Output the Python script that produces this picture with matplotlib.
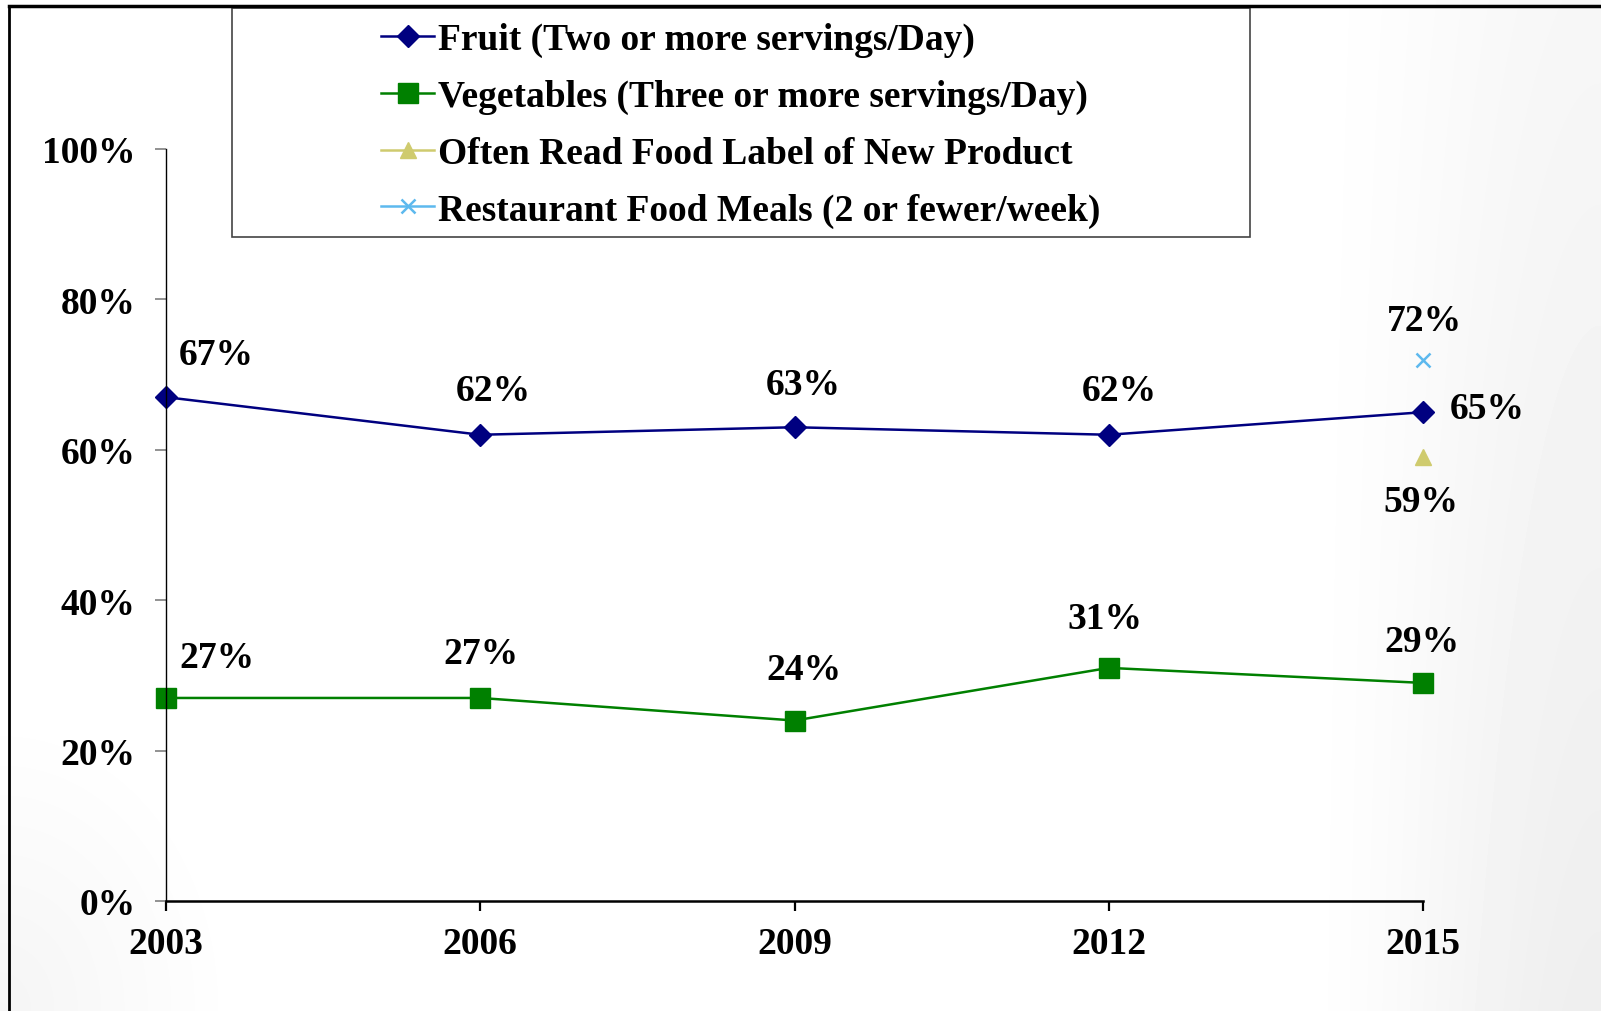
import numpy as np
import matplotlib
matplotlib.use('Agg')
from matplotlib import pyplot as plt
from matplotlib.lines import Line2D
from matplotlib.patches import Rectangle
from matplotlib.ticker import FuncFormatter

# Данные графика
years = [2003, 2006, 2009, 2012, 2015]
fruit = [67, 62, 63, 62, 65]
vegetables = [27, 27, 24, 31, 29]
label_year = [2015]
food_label = [59]
restaurant_year = [2015]
restaurant = [72]

legend_names = ['Fruit (Two or more servings/Day)',
                'Vegetables (Three or more servings/Day)',
                'Often Read Food Label of New Product',
                'Restaurant Food Meals (2 or fewer/week)']

# смещения подписей значений (в пикселях)
fruit_offsets = [(50, 43), (13, 44), (9, 43), (11, 44), (64, 4)]
veg_offsets = [(51, 40), (1, 44), (9, 51), (-4, 49), (-1, 41)]

colors = ['#000080', '#008000', '#CFCB6E', '#5DB9EE']

plt.rcParams['font.family'] = ['Liberation Serif', 'DejaVu Serif']
plt.rcParams['font.weight'] = 'bold'

fig = plt.figure(figsize=(16.01, 10.12), dpi=100)

# лёгкий серый градиент фона, как на слайде
bg = fig.add_axes([0, 0, 1, 1], zorder=-5)
gx, gy = np.meshgrid(np.linspace(0, 1, 400), np.linspace(0, 1, 260))
t = np.clip((gx - 0.8) / 0.2, 0, 1)
shade = 0.065 * t * t * (3 - 2 * t) * (0.5 + 0.5 * gy)
shade += 0.04 * np.clip(1 - np.hypot(gx / 0.15, (1 - gy) / 0.3), 0, 1)
bg.imshow(1 - shade, cmap='gray', vmin=0, vmax=1, aspect='auto', extent=(0, 1, 0, 1),
          origin='upper', interpolation='bilinear')
bg.axis('off')

ax = fig.add_axes([166 / 1601, 1 - 902 / 1012, (1423 - 166) / 1601, (902 - 150) / 1012])
ax.patch.set_alpha(0)

ax.plot(years, fruit, color=colors[0], lw=1.8, marker='D', ms=11, clip_on=False)
ax.plot(years, vegetables, color=colors[1], lw=1.8, marker='s', ms=14, clip_on=False)
ax.plot(label_year, food_label, color=colors[2], marker='^', ms=11,
        linestyle='none', clip_on=False)
ax.plot(restaurant_year, restaurant, color=colors[3], marker='x', ms=10,
        mew=1.8, linestyle='none', clip_on=False)

fs = 27
for x, y, (dx, dy) in zip(years, fruit, fruit_offsets):
    ax.annotate(f'{y}%', (x, y), xytext=(dx, dy), textcoords='offset pixels',
                ha='center', va='center', fontsize=fs, fontweight='bold')
for x, y, (dx, dy) in zip(years, vegetables, veg_offsets):
    ax.annotate(f'{y}%', (x, y), xytext=(dx, dy), textcoords='offset pixels',
                ha='center', va='center', fontsize=fs, fontweight='bold')
for x, y in zip(restaurant_year, restaurant):
    ax.annotate(f'{y}%', (x, y), xytext=(1, 39), textcoords='offset pixels',
                ha='center', va='center', fontsize=fs, fontweight='bold')
for x, y in zip(label_year, food_label):
    ax.annotate(f'{y}%', (x, y), xytext=(-2, -44), textcoords='offset pixels',
                ha='center', va='center', fontsize=fs, fontweight='bold')

ax.set_xlim(2003, 2015)
ax.set_ylim(0, 100)
ax.set_xticks(years)
ax.set_yticks(range(0, 101, 20))
ax.yaxis.set_major_formatter(FuncFormatter(lambda v, p: f'{v:.0f}%'))
ax.spines['top'].set_visible(False)
ax.spines['right'].set_visible(False)
ax.spines['left'].set_linewidth(1.0)
ax.spines['bottom'].set_linewidth(1.8)
ax.tick_params(axis='y', direction='out', length=8, width=1.2, color='#7f7f7f',
               pad=14, labelsize=fs)
ax.tick_params(axis='x', direction='out', length=7, width=1.6, pad=11, labelsize=fs)

# Легенда в рамке
fig.patches.append(Rectangle((232 / 1601, 1 - 238 / 1012), (1250 - 232) / 1601, (238 - 9) / 1012,
                             transform=fig.transFigure, fill=False, edgecolor='#444444', lw=1.2))
handles = [Line2D([], [], color=colors[0], lw=1.8, marker='D', ms=11),
           Line2D([], [], color=colors[1], lw=1.8, marker='s', ms=14),
           Line2D([], [], color=colors[2], lw=1.8, marker='^', ms=11),
           Line2D([], [], color=colors[3], lw=1.8, marker='x', ms=10, mew=1.8)]
fig.legend(handles, legend_names, loc='upper left',
           bbox_to_anchor=(381 / 1601, 1 - 23 / 1012), frameon=False, fontsize=fs,
           handlelength=1.42, handletextpad=0.1, labelspacing=0.58, borderpad=0,
           borderaxespad=0)

# рамка слайда
fig.add_artist(Line2D([9 / 1601, 9 / 1601], [0, 1 - 7 / 1012], transform=fig.transFigure,
                      color='black', lw=2))
fig.add_artist(Line2D([9 / 1601, 1], [1 - 7 / 1012, 1 - 7 / 1012], transform=fig.transFigure,
                      color='black', lw=2.5))

fig.savefig('out.png', dpi=100)
